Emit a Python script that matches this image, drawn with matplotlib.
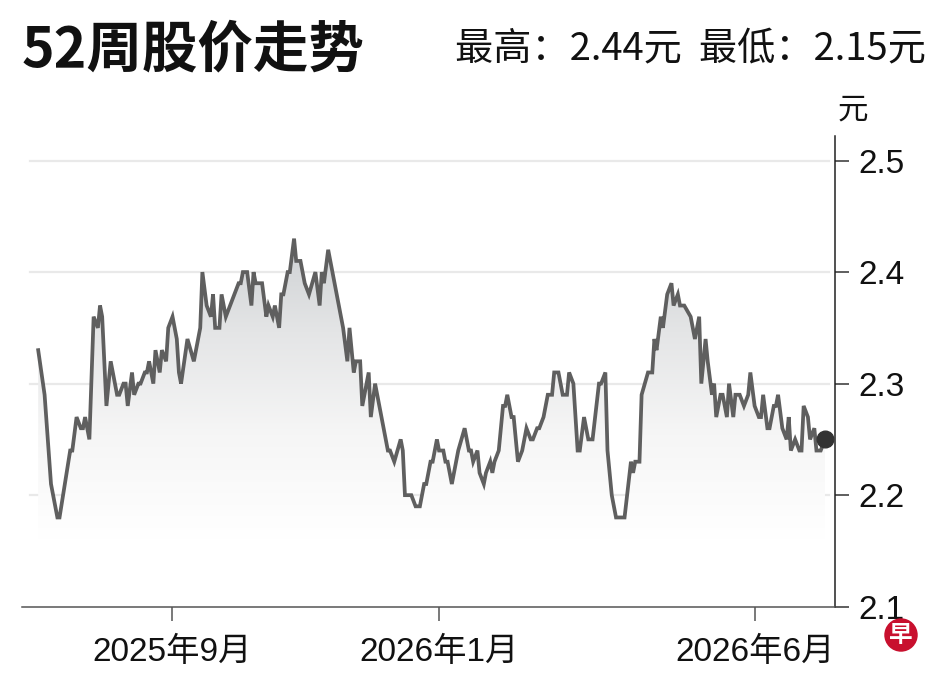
import numpy as np
import matplotlib
matplotlib.use('Agg')
import matplotlib.pyplot as plt
from matplotlib.colors import LinearSegmentedColormap
from matplotlib.patches import Polygon

plt.rcParams['font.family'] = ['Liberation Sans', 'Noto Sans CJK SC', 'DejaVu Sans']
plt.rcParams['axes.unicode_minus'] = False

# 走势数据 (横轴为图上位置, 大约按日)
t = [0, 3, 6, 7, 9, 10, 15, 16, 18, 20, 21, 22, 24, 26, 28, 29, 30, 32, 34, 35,
     37, 38, 40, 41, 42, 44, 45, 47, 48, 50, 51, 52, 54, 55, 57, 58, 60, 61, 63, 65,
     66, 67, 70, 73, 74, 76, 77, 79, 81, 82, 83, 85, 86, 88, 90,
     92, 94, 95, 96, 98, 100, 101, 102, 105, 107, 108, 110, 111, 113, 114, 115, 117, 118, 120, 121,
     123, 125, 127, 130, 132, 133, 134, 136, 138, 139, 141, 143, 145, 146, 148, 149, 151, 152, 155, 156,
     158, 160, 163, 164, 165, 167, 170, 171, 172, 175, 177, 179, 181, 182, 184,
     185, 187, 188, 190, 191, 192, 194, 195, 197, 200, 202, 203, 204, 206, 207, 209, 210, 212, 213, 214,
     216, 218, 219, 220, 222, 223, 225, 227, 229, 231, 232, 234, 235, 237, 239, 241, 242, 244, 246, 248,
     249, 251, 253, 254, 256, 258, 260, 263, 264, 266, 267, 269, 271, 275, 278,
     279, 280, 282, 283, 286, 288, 289, 290, 292, 293, 295, 297, 298, 300, 301, 303, 306, 308, 310, 311,
     313, 314, 316, 317, 318, 320, 321, 323, 324, 326, 327, 329, 331, 333, 334, 336, 338, 339, 340, 342,
     343, 345, 346, 347, 349, 351, 352, 353, 355, 357, 358, 359, 361, 362, 364, 365, 367, 369]
price = [2.33, 2.29, 2.21, 2.20, 2.18, 2.18, 2.24, 2.24, 2.27, 2.26, 2.26, 2.27, 2.25, 2.36, 2.35, 2.37, 2.36, 2.28, 2.32, 2.31,
         2.29, 2.29, 2.30, 2.30, 2.28, 2.31, 2.29, 2.30, 2.30, 2.31, 2.31, 2.32, 2.30, 2.33, 2.31, 2.33, 2.32, 2.35, 2.36, 2.34,
         2.31, 2.30, 2.34, 2.32, 2.33, 2.35, 2.40, 2.37, 2.36, 2.38, 2.35, 2.35, 2.38, 2.36, 2.37,
         2.38, 2.39, 2.39, 2.40, 2.40, 2.37, 2.40, 2.39, 2.39, 2.36, 2.37, 2.36, 2.37, 2.35, 2.38, 2.38, 2.40, 2.40, 2.43, 2.41,
         2.41, 2.39, 2.38, 2.40, 2.37, 2.40, 2.39, 2.42, 2.40, 2.39, 2.37, 2.35, 2.32, 2.35, 2.31, 2.32, 2.32, 2.28, 2.31, 2.27,
         2.30, 2.28, 2.25, 2.24, 2.24, 2.23, 2.25, 2.24, 2.20, 2.20, 2.19, 2.19, 2.21, 2.21, 2.23,
         2.23, 2.25, 2.24, 2.24, 2.23, 2.23, 2.21, 2.22, 2.24, 2.26, 2.24, 2.24, 2.23, 2.24, 2.22, 2.21, 2.22, 2.23, 2.22, 2.23,
         2.24, 2.28, 2.28, 2.29, 2.27, 2.27, 2.23, 2.24, 2.26, 2.25, 2.25, 2.26, 2.26, 2.27, 2.29, 2.29, 2.31, 2.31, 2.29, 2.29,
         2.31, 2.30, 2.24, 2.24, 2.27, 2.25, 2.25, 2.30, 2.30, 2.31, 2.24, 2.20, 2.18, 2.18, 2.23,
         2.22, 2.23, 2.23, 2.29, 2.31, 2.31, 2.34, 2.33, 2.36, 2.35, 2.38, 2.39, 2.37, 2.38, 2.37, 2.37, 2.36, 2.34, 2.36, 2.30,
         2.34, 2.32, 2.29, 2.30, 2.27, 2.29, 2.29, 2.27, 2.30, 2.27, 2.29, 2.29, 2.28, 2.29, 2.31, 2.28, 2.27, 2.27, 2.29, 2.26,
         2.26, 2.28, 2.28, 2.29, 2.26, 2.25, 2.27, 2.24, 2.25, 2.24, 2.24, 2.28, 2.27, 2.25, 2.26, 2.24, 2.24, 2.25]

tick_t = [62.6, 187.8, 336.2]
tick_labels = ['2025年9月', '2026年1月', '2026年6月']
y_ticks = [2.1, 2.2, 2.3, 2.4, 2.5]
high, low = 2.44, 2.15

fig = plt.figure(figsize=(9.48, 6.81), dpi=100)
ax = fig.add_axes([0.0232, 0.1091, 0.8576, 0.6912])

# 网格
for y in y_ticks[1:]:
    ax.axhline(y, xmin=0.01, xmax=0.993, color='#e9e9e9', lw=1.6, zorder=0)

# 渐变填充
cmap = LinearSegmentedColormap.from_list('g', ['#ffffff', '#f6f6f6', '#e4e5e6', '#cbced1'])
grad = np.linspace(0, 1, 256).reshape(-1, 1)
verts = list(zip(t, price)) + [(t[-1], 2.1), (t[0], 2.1)]
poly = Polygon(verts, closed=True, facecolor='none', edgecolor='none', transform=ax.transData)
ax.add_patch(poly)
im = ax.imshow(grad, cmap=cmap, origin='lower', aspect='auto',
               extent=[t[0], t[-1], 2.16, 2.44], zorder=1)
im.set_clip_path(poly)
ax.set_xlim(-7.6, 373.7)
ax.set_ylim(2.1, 2.522)

ax.plot(t, price, color='#5f5f5f', lw=2.7, solid_joinstyle='miter', zorder=3)
ax.plot(t[-1], price[-1], 'o', color='#333333', ms=12, zorder=4)

for s in ['left', 'top']:
    ax.spines[s].set_visible(False)
ax.spines['bottom'].set_color('#555555')
ax.spines['bottom'].set_linewidth(1.1)
ax.spines['right'].set_color('#222222')
ax.spines['right'].set_linewidth(1.1)

ax.yaxis.tick_right()
ax.set_yticks(y_ticks)
ax.set_yticklabels([f'{v:.1f}' for v in y_ticks])
ax.tick_params(axis='y', direction='out', length=10, width=1.1, color='#333333',
               labelsize=24, pad=7, labelcolor='#111111')
ax.set_xticks(tick_t)
ax.set_xticklabels(tick_labels)
ax.tick_params(axis='x', direction='out', length=10, width=1.1, color='#555555',
               labelsize=24, pad=12, labelcolor='#111111')

fig.text(853 / 948, 1 - 110 / 681, '元', fontsize=22, ha='center', va='center',
         family=['Noto Sans CJK SC'], color='#111111')
fig.text(22 / 948, 1 - 50 / 681, '52周股价走势', fontsize=40, fontweight='heavy',
         ha='left', va='center', family=['Noto Sans CJK SC'], color='#111111')
fig.text(926 / 948, 1 - 50 / 681, f'最高：{high:.2f}元  最低：{low:.2f}元', fontsize=27.5,
         ha='right', va='center', family=['Noto Sans CJK SC'], color='#111111')

# 早报标志
fig.text(901 / 948, 1 - 635 / 681, '早', fontsize=17, fontweight='bold', color='white',
         ha='center', va='center', family=['Noto Sans CJK SC'],
         bbox=dict(boxstyle='circle,pad=0.2', fc='#c8102e', ec='none'))

fig.savefig('out.png', dpi=100)
